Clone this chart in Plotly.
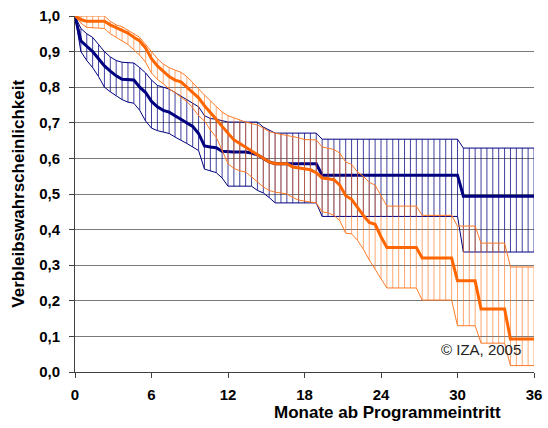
import plotly.graph_objects as go

# Bi-weekly periods after programme entry (13 periods = 6 months)
period = list(range(79))
tick_periods = [0, 13, 26, 39, 52, 65, 78]
tick_labels = ["0", "6", "12", "18", "24", "30", "36"]

navy_mean = [1.0, 0.93, 0.915, 0.90, 0.88, 0.86, 0.845, 0.832, 0.822, 0.82,
             0.82, 0.80, 0.785, 0.76, 0.745, 0.735, 0.73, 0.72, 0.71, 0.70,
             0.69, 0.67, 0.635, 0.632, 0.63, 0.62, 0.618, 0.618, 0.618, 0.618,
             0.615, 0.61, 0.60, 0.59, 0.585, 0.585, 0.585, 0.585, 0.585, 0.585,
             0.585, 0.585, 0.553, 0.553, 0.553, 0.553, 0.553, 0.553, 0.553, 0.553,
             0.553, 0.553, 0.553, 0.553, 0.553, 0.553, 0.553, 0.553, 0.553, 0.553,
             0.553, 0.553, 0.553, 0.553, 0.553, 0.553, 0.494, 0.494, 0.494, 0.494,
             0.494, 0.494, 0.494, 0.494, 0.494, 0.494, 0.494, 0.494, 0.494]
navy_upper = [1.0, 0.965, 0.95, 0.94, 0.92, 0.90, 0.885, 0.875, 0.87, 0.87,
              0.868, 0.855, 0.84, 0.82, 0.805, 0.80, 0.795, 0.785, 0.775, 0.765,
              0.755, 0.745, 0.72, 0.712, 0.71, 0.705, 0.702, 0.702, 0.702, 0.702,
              0.702, 0.702, 0.688, 0.68, 0.671, 0.671, 0.671, 0.671, 0.671, 0.671,
              0.671, 0.671, 0.654, 0.654, 0.654, 0.654, 0.654, 0.654, 0.654, 0.654,
              0.654, 0.654, 0.654, 0.654, 0.654, 0.654, 0.654, 0.654, 0.654, 0.654,
              0.654, 0.654, 0.654, 0.654, 0.654, 0.654, 0.629, 0.629, 0.629, 0.629,
              0.629, 0.629, 0.629, 0.629, 0.629, 0.629, 0.629, 0.629, 0.629]
navy_lower = [1.0, 0.90, 0.875, 0.855, 0.83, 0.80, 0.787, 0.777, 0.765, 0.758,
              0.755, 0.735, 0.705, 0.685, 0.678, 0.674, 0.67, 0.66, 0.652, 0.642,
              0.632, 0.622, 0.57, 0.565, 0.56, 0.545, 0.522, 0.522, 0.522, 0.522,
              0.522, 0.51, 0.503, 0.49, 0.475, 0.475, 0.475, 0.475, 0.475, 0.475,
              0.475, 0.475, 0.437, 0.437, 0.437, 0.437, 0.437, 0.437, 0.437, 0.437,
              0.437, 0.437, 0.437, 0.437, 0.437, 0.437, 0.437, 0.437, 0.437, 0.437,
              0.437, 0.437, 0.437, 0.437, 0.437, 0.437, 0.337, 0.337, 0.337, 0.337,
              0.337, 0.337, 0.337, 0.337, 0.337, 0.337, 0.337, 0.337, 0.337]

orange_mean = [1.0, 0.99, 0.985, 0.985, 0.985, 0.985, 0.975, 0.968, 0.96, 0.952,
               0.94, 0.93, 0.91, 0.88, 0.86, 0.845, 0.83, 0.82, 0.815, 0.80,
               0.785, 0.77, 0.748, 0.73, 0.71, 0.69, 0.67, 0.652, 0.642, 0.632,
               0.622, 0.612, 0.60, 0.59, 0.585, 0.585, 0.585, 0.576, 0.573, 0.572,
               0.568, 0.56, 0.545, 0.543, 0.54, 0.525, 0.495, 0.485, 0.462, 0.44,
               0.42, 0.415, 0.38, 0.35, 0.35, 0.35, 0.35, 0.35, 0.35, 0.32,
               0.32, 0.32, 0.32, 0.32, 0.32, 0.256, 0.256, 0.256, 0.256, 0.177,
               0.177, 0.177, 0.177, 0.177, 0.093, 0.093, 0.093, 0.093, 0.093]
orange_upper = [1.0, 1.0, 1.0, 1.0, 1.0, 1.0, 0.985, 0.975, 0.97, 0.96,
                0.95, 0.94, 0.92, 0.90, 0.88, 0.865, 0.855, 0.848, 0.842, 0.83,
                0.812, 0.795, 0.778, 0.762, 0.745, 0.73, 0.72, 0.713, 0.708, 0.702,
                0.698, 0.694, 0.685, 0.675, 0.671, 0.668, 0.666, 0.662, 0.658, 0.653,
                0.652, 0.652, 0.632, 0.628, 0.625, 0.615, 0.59, 0.583, 0.562, 0.55,
                0.533, 0.525, 0.495, 0.466, 0.466, 0.466, 0.466, 0.466, 0.466, 0.44,
                0.44, 0.44, 0.44, 0.44, 0.44, 0.41, 0.41, 0.41, 0.41, 0.362,
                0.362, 0.362, 0.362, 0.362, 0.295, 0.295, 0.295, 0.295, 0.295]
orange_lower = [1.0, 0.98, 0.968, 0.966, 0.966, 0.965, 0.95, 0.94, 0.93, 0.92,
                0.905, 0.89, 0.87, 0.84, 0.822, 0.81, 0.795, 0.785, 0.772, 0.76,
                0.742, 0.72, 0.705, 0.68, 0.66, 0.62, 0.585, 0.572, 0.565, 0.562,
                0.548, 0.532, 0.52, 0.51, 0.505, 0.503, 0.50, 0.49, 0.483, 0.48,
                0.478, 0.475, 0.45, 0.447, 0.44, 0.425, 0.39, 0.388, 0.37, 0.345,
                0.315, 0.29, 0.262, 0.236, 0.236, 0.236, 0.236, 0.236, 0.236, 0.202,
                0.202, 0.202, 0.202, 0.202, 0.202, 0.13, 0.13, 0.13, 0.13, 0.081,
                0.081, 0.081, 0.081, 0.081, 0.018, 0.018, 0.018, 0.018, 0.018]

y_ticks = [i / 10 for i in range(11)]

FONT = "Liberation Sans, Arial, sans-serif"


def hilo(lo, hi):
    xs, ys = [], []
    for p, a, b in zip(period, lo, hi):
        xs += [p, p, None]
        ys += [a, b, None]
    return xs, ys


fig = go.Figure()

groups = [
    (navy_mean, navy_upper, navy_lower, "#000080", "#000080", "rgba(0,0,128,0.75)"),
    (orange_mean, orange_upper, orange_lower, "#FF6600", "#FF7A26", "rgba(255,110,20,0.6)"),
]
for mean, up, lo, c_main, c_band, c_hilo in groups:
    hx, hy = hilo(lo, up)
    fig.add_trace(go.Scatter(x=hx, y=hy, mode="lines",
                             line=dict(color=c_hilo, width=1), hoverinfo="skip"))
    fig.add_trace(go.Scatter(x=period, y=up, mode="lines",
                             line=dict(color=c_band, width=1)))
    fig.add_trace(go.Scatter(x=period, y=lo, mode="lines",
                             line=dict(color=c_band, width=1)))
    fig.add_trace(go.Scatter(x=period, y=mean, mode="lines",
                             line=dict(color=c_main, width=3)))

fig.update_layout(
    width=548, height=428,
    margin=dict(l=74.5, r=13.5, t=16, b=56),
    paper_bgcolor="white", plot_bgcolor="white",
    showlegend=False,
    separators=",.",
    font=dict(family=FONT, size=12, color="black"),
)
fig.update_xaxes(
    range=[0, 78], tickmode="array", tickvals=tick_periods, ticktext=tick_labels,
    showgrid=False, zeroline=False, showline=True, linecolor="#404040", linewidth=1,
    ticks="outside", ticklen=5, tickcolor="#404040", ticklabelstandoff=4,
    automargin=False, ticklabeloverflow="allow",
    tickfont=dict(family=FONT, size=15, color="black", weight="bold"),
)
fig.update_yaxes(
    range=[0, 1.0], tickmode="array", tickvals=y_ticks, tickformat=".1f",
    showgrid=True, gridcolor="#7a7a7a", gridwidth=1, zeroline=False,
    showline=True, linecolor="#404040", linewidth=1,
    ticks="outside", ticklen=5, tickcolor="#404040", ticklabelstandoff=6,
    automargin=False, ticklabeloverflow="allow",
    tickfont=dict(family=FONT, size=15, color="black", weight="bold"),
)
fig.add_annotation(text="Verbleibswahrscheinlichkeit", xref="paper", yref="paper",
                   x=-0.125, y=0.5, xanchor="center", yanchor="middle",
                   textangle=-90, showarrow=False,
                   font=dict(family=FONT, size=17, color="black", weight="bold"))
fig.add_annotation(text="Monate ab Programmeintritt", xref="paper", yref="paper",
                   x=0.6815, y=-0.1124, xanchor="center", yanchor="middle",
                   showarrow=False,
                   font=dict(family=FONT, size=17, color="black", weight="bold"))
fig.add_annotation(text="© IZA, 2005", xref="paper", yref="paper",
                   x=0.884, y=0.062, xanchor="center", yanchor="middle",
                   showarrow=False,
                   font=dict(family=FONT, size=15, color="#222222"))

fig.write_html("out.html",
               config={"displayModeBar": False},
               post_script="document.body.style.margin='0px';"
                           "document.body.style.overflow='hidden';")
